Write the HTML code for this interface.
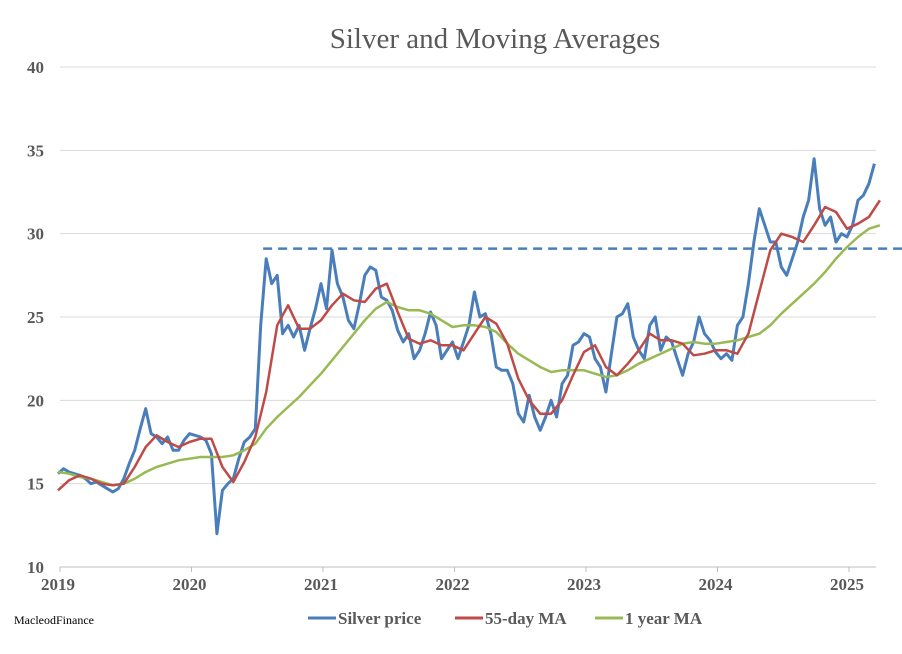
<!DOCTYPE html>
<html><head><meta charset="utf-8"><style>
body{margin:0;background:#fff;}
svg{display:block;font-family:"Liberation Serif",serif;}
</style></head><body>
<svg id="chart" width="902" height="654">
<text x="495" y="48" text-anchor="middle" font-size="29" fill="#595959">Silver and Moving Averages</text>
<g id="grid"></g><g id="yt"></g><g id="xt"></g><g id="series"></g>
<text x="14" y="624" font-size="12" fill="#000">MacleodFinance</text>
<g font-size="17" font-weight="bold" fill="#595959">
<g><line x1="308" y1="618" x2="336" y2="618" stroke="#4a7ebb" stroke-width="3"/><text x="338" y="624">Silver price</text></g>
<g><line x1="455" y1="618" x2="483" y2="618" stroke="#be4b48" stroke-width="3"/><text x="485" y="624">55-day MA</text></g>
<g><line x1="595" y1="618" x2="623" y2="618" stroke="#98b954" stroke-width="3"/><text x="625" y="624">1 year MA</text></g>
</g>
</svg>
<script>
const yTicks=[10,15,20,25,30,35,40];
const xTicks=[2019,2020,2021,2022,2023,2024,2025];
const silverStart=2019;
const silver=[15.6,15.9,15.7,15.6,15.5,15.3,15.0,15.1,14.9,14.7,14.5,14.7,15.3,16.2,17.0,18.3,19.5,18.0,17.8,17.4,17.8,17.0,17.0,17.6,
18.0,17.9,17.8,17.6,16.8,12.0,14.6,15.0,15.3,16.5,17.5,17.8,18.3,24.5,28.5,27.0,27.5,24.0,24.5,23.8,24.5,23.0,24.3,25.5,
27.0,25.5,29.0,27.0,26.2,24.8,24.3,25.8,27.5,28.0,27.8,26.2,26.0,25.4,24.2,23.5,24.0,22.5,23.0,24.0,25.3,24.5,22.5,23.0,
23.5,22.5,23.5,24.5,26.5,25.0,25.2,24.0,22.0,21.8,21.8,21.0,19.2,18.7,20.3,19.0,18.2,19.0,20.0,19.0,21.0,21.5,23.3,23.5,
24.0,23.8,22.5,22.0,20.5,22.8,25.0,25.2,25.8,23.8,23.0,22.5,24.5,25.0,23.0,23.8,23.5,22.5,21.5,22.8,23.5,25.0,24.0,23.6,
22.9,22.5,22.8,22.4,24.5,25.0,27.0,29.5,31.5,30.5,29.5,29.5,28.0,27.5,28.5,29.5,31.0,32.0,34.5,31.5,30.5,31.0,29.5,30.0,
29.8,30.5,32.0,32.3,33.0,34.2];
const ma55=[14.6,15.2,15.5,15.3,15.0,14.9,15.0,16.0,17.2,17.9,17.5,17.2,
17.5,17.7,17.7,16.0,15.1,16.3,17.8,20.5,24.5,25.7,24.3,24.3,
24.8,25.7,26.4,26.0,25.9,26.7,27.0,25.3,23.7,23.4,23.6,23.3,
23.3,23.0,24.0,25.0,24.6,23.4,21.3,20.0,19.2,19.2,20.0,21.5,
22.9,23.3,22.0,21.5,22.2,23.0,24.0,23.6,23.6,23.4,22.7,22.8,
23.0,23.0,22.8,24.0,26.5,29.0,30.0,29.8,29.5,30.5,31.6,31.3,
30.3,30.6,31.0,32.0];
const ma1y=[15.7,15.6,15.4,15.3,15.1,14.9,15.0,15.3,15.7,16.0,16.2,16.4,
16.5,16.6,16.6,16.6,16.7,17.0,17.4,18.3,19.0,19.6,20.2,20.9,
21.6,22.4,23.2,24.0,24.8,25.5,25.9,25.6,25.4,25.4,25.2,24.8,
24.4,24.5,24.5,24.4,24.1,23.4,22.8,22.4,22.0,21.7,21.8,21.8,
21.8,21.6,21.4,21.5,21.8,22.2,22.5,22.8,23.1,23.4,23.5,23.4,
23.4,23.5,23.6,23.8,24.0,24.5,25.2,25.8,26.4,27.0,27.7,28.5,
29.2,29.8,30.3,30.5];
const resistance=29.1, resistanceStart=2020.56;
const NS="http://www.w3.org/2000/svg";
const X0=58,PX=131.5,L=60,R=876;
const xs=t=>X0+(t-2019)*PX, ys=v=>567-(v-10)*16.667;
function mk(tag,at,parent){const e=document.createElementNS(NS,tag);for(const k in at)e.setAttribute(k,at[k]);document.getElementById(parent).appendChild(e);return e;}
yTicks.forEach(v=>{
 const g=mk('line',{x1:L,x2:R,y1:ys(v),y2:ys(v),stroke:v===10?'#bfbfbf':'#d9d9d9','stroke-width':1},'grid');
 
 
 const t=mk('text',{x:44,y:ys(v)+6,'text-anchor':'end','font-size':17,'font-weight':'bold',fill:'#595959'},'yt');
 t.textContent=v;
 
 
});
xTicks.forEach(v=>{
 const tk=mk('line',{x1:xs(v)+2,x2:xs(v)+2,y1:567,y2:572,stroke:'#bfbfbf','stroke-width':1},'xt');
 
 
 const t=mk('text',{x:xs(v),y:590,'text-anchor':'middle','font-size':17,'font-weight':'bold',fill:'#595959'},'xt');
 t.textContent=v;
 
 
});
function path(arr,step,color,w,name){
 const d=arr.map((v,i)=>(i?'L':'M')+xs(silverStart+i*step).toFixed(1)+','+ys(v).toFixed(1)).join('');
 const p=mk('path',{d:d,fill:'none',stroke:color,'stroke-width':w,'stroke-linejoin':'round'},'series');
 
 
}
const dl=mk('line',{x1:xs(resistanceStart),x2:902,y1:ys(resistance),y2:ys(resistance),stroke:'#4a7ebb','stroke-width':2.5,'stroke-dasharray':'9,6'},'series');


path(silver,1/24,'#4a7ebb',3,'silver-price-line');
path(ma1y,1/12,'#98b954',2.5,'one-year-ma-line');
path(ma55,1/12,'#be4b48',2.5,'ma55-line');
</script>
</body></html>
